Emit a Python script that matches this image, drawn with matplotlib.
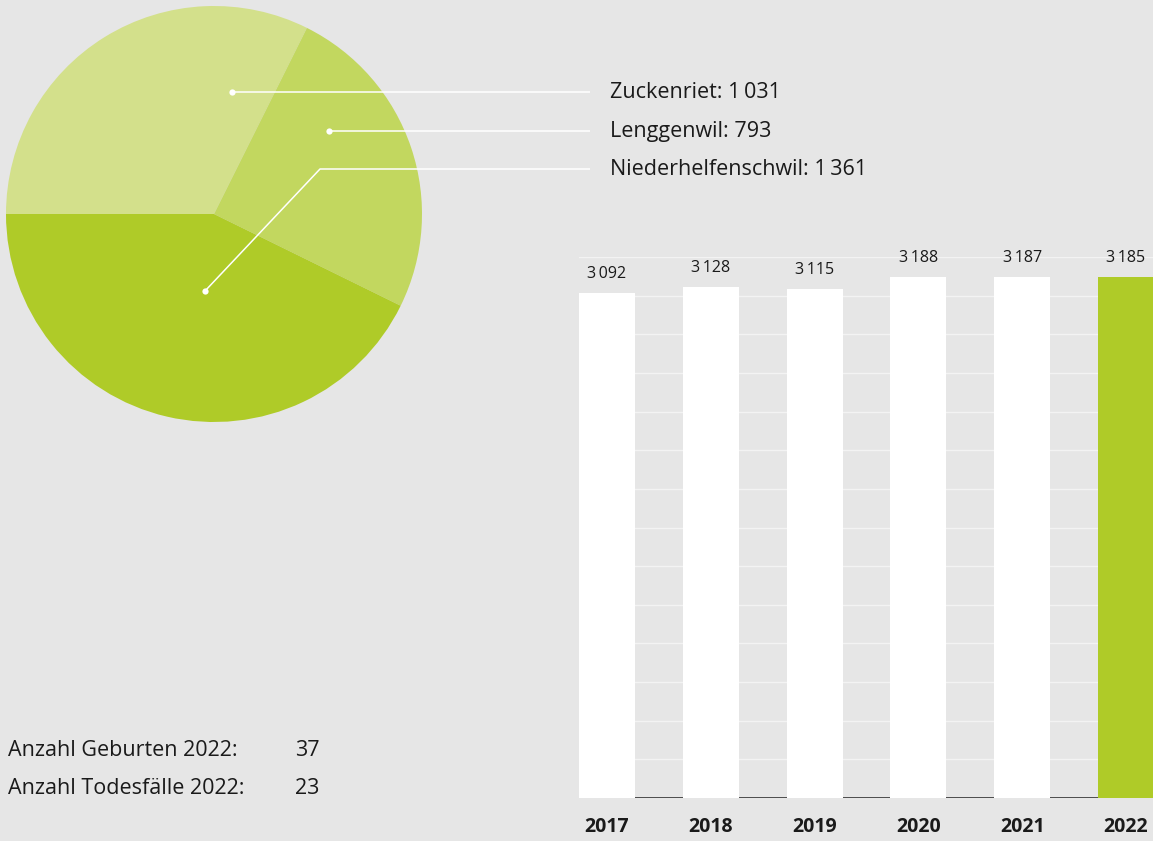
import matplotlib
matplotlib.use("Agg")
import matplotlib.pyplot as plt
import numpy as np

plt.rcParams['font.family'] = ['Open Sans', 'DejaVu Sans']

# ---- data ----
villages = ["Zuckenriet", "Lenggenwil", "Niederhelfenschwil"]
residents = [1031, 793, 1361]
years = ["2017", "2018", "2019", "2020", "2021", "2022"]
population = [3092, 3128, 3115, 3188, 3187, 3185]
stat_labels = ["Anzahl Geburten 2022:", "Anzahl Todesfälle 2022:"]
stat_values = [37, 23]

BG = "#e6e6e6"
pie_colors = ["#d3e08b", "#c2d75f", "#afcb28"]
bar_colors = ["#ffffff"] * 5 + ["#afcb28"]

W, H = 1153, 841
fig = plt.figure(figsize=(W / 100, H / 100), dpi=100, facecolor=BG)

def fx(px):
    return px / W

def fy(py):
    return 1 - py / H

def fmt(v):
    return f"{v:,}".replace(",", "\u2009")

# ---- pie ----
cx, cy, r = 214, 214, 208
axp = fig.add_axes([fx(cx - r), fy(cy + r), 2 * r / W, 2 * r / H])
axp.pie(residents, colors=pie_colors, startangle=180, counterclock=False,
        radius=1, wedgeprops=dict(linewidth=0))
axp.set_xlim(-1, 1)
axp.set_ylim(-1, 1)
axp.set_aspect("auto")
axp.axis("off")

# ---- overlay for leader lines / text (pixel coordinates) ----
ov = fig.add_axes([0, 0, 1, 1], facecolor="none")
ov.set_xlim(0, W)
ov.set_ylim(H, 0)
ov.axis("off")

leaders = [
    [(232, 92), (590, 92)],
    [(329, 131), (590, 131)],
    [(205, 291), (320, 169), (590, 169)],
]
for name, val, pts in zip(villages, residents, leaders):
    xs, ys = zip(*pts)
    ov.plot(xs, ys, color="white", lw=1.1, solid_capstyle="butt")
    ov.plot([xs[0]], [ys[0]], "o", color="white", ms=4.5, mec="none")
    ov.text(610, ys[-1], f"{name}: {fmt(val)}", fontsize=15.5,
            va="center", ha="left", color="#1a1a1a")

for i, (lab, v) in enumerate(zip(stat_labels, stat_values)):
    yy = 751 + 38 * i
    ov.text(8, yy, lab, fontsize=15.5, va="center", ha="left", color="#1a1a1a")
    ov.text(295, yy, str(v), fontsize=15.5, va="center", ha="left", color="#1a1a1a")

# ---- bar chart ----
step = 103.8
x0 = 607
left_px, right_px = 579, W
xmin = (left_px - x0) / step
xmax = (right_px - x0) / step
base_px, top_px = 798, 257
axb = fig.add_axes([fx(left_px), fy(base_px), (right_px - left_px) / W,
                    (base_px - top_px) / H], facecolor="none")
ymax = 3310
x = np.arange(len(years))
for g in np.linspace(0, ymax, 15)[1:]:
    axb.axhline(g, color="#f3f3f3", lw=1.0, zorder=0)
axb.axhline(0, color="#333333", lw=1.2, zorder=1)
axb.bar(x, population, width=56 / step, color=bar_colors, zorder=2,
        linewidth=0)
axb.axhline(0, color="#c8c8c8", lw=0.8, zorder=2.5, xmin=0, xmax=1,
            alpha=0.0)
for xi, v in zip(x, population):
    axb.annotate(fmt(v), (xi, v), xytext=(0, 8), textcoords="offset points",
                 ha="center", va="bottom", fontsize=11.5, color="#1a1a1a",
                 annotation_clip=False)
axb.set_xlim(xmin, xmax)
axb.set_ylim(0, ymax)
axb.set_xticks(x)
axb.set_xticklabels(years, fontsize=14, fontweight="bold", color="#1a1a1a")
axb.tick_params(axis="x", length=0, pad=14)
axb.set_yticks([])
for s in axb.spines.values():
    s.set_visible(False)

fig.savefig("out.png", dpi=100, facecolor=BG)
